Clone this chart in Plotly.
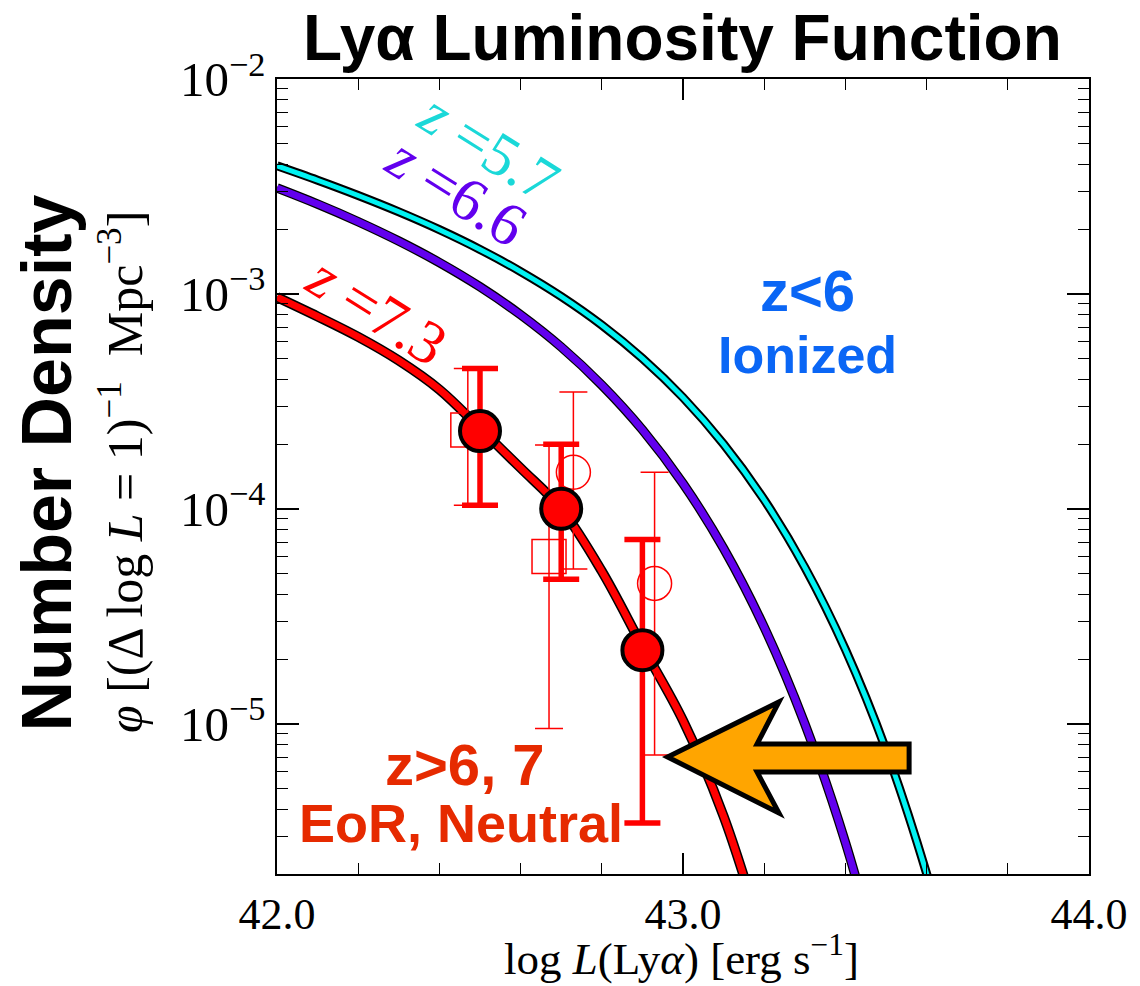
import plotly.graph_objects as go

# ---- data -------------------------------------------------------------
log_lum = [42.0, 42.1, 42.2, 42.3, 42.4, 42.5, 42.6, 42.7, 42.8, 42.9,
           43.0, 43.1, 43.2, 43.3, 43.4, 43.5, 43.6, 43.7]

# log10 phi of the Schechter model curves at each log L
lf_z57 = [-2.404, -2.471, -2.542, -2.618, -2.701, -2.793, -2.896, -3.012,
          -3.145, -3.300, -3.482, -3.699, -3.958, -4.272, -4.654, -5.121,
          -5.697, -6.390]
lf_z66 = [-2.507, -2.582, -2.664, -2.754, -2.854, -2.967, -3.097, -3.247,
          -3.424, -3.632, -3.882, -4.184, -4.551, -5.000, -5.552, -6.235]
lf_z73 = [-3.015, -3.105, -3.200, -3.310, -3.445, -3.625, -3.810, -4.000,
          -4.290, -4.640, -4.985, -5.430, -6.020]

# z=7.3 measurements (filled circles, thick error bars)
obs_x = [42.5, 42.7, 42.9]
obs_phi = [2.3e-4, 1.0e-4, 2.2e-5]
obs_hi = [4.5e-4, 2.0e-4, 7.2e-5]
obs_lo = [1.04e-4, 4.7e-5, 3.45e-6]

# earlier z~7 measurements: open squares
sq_x = [42.47, 42.67]
sq_phi = [2.33e-4, 6.0e-5]
sq_hi = [4.5e-4, 1.98e-4]
sq_lo = [1.04e-4, 9.5e-6]

# open circles
ci_x = [42.73, 42.93]
ci_phi = [1.48e-4, 4.5e-5]
ci_hi = [3.5e-4, 1.48e-4]
ci_lo = [5.25e-5, 7.15e-6]

x_ticks = [42.0, 43.0, 44.0]
x_ticktext = ["42.0", "43.0", "44.0"]
y_ticks = [1e-5, 1e-4, 1e-3, 1e-2]
y_ticktext = ["10<sup>−5</sup>", "10<sup>−4</sup>", "10<sup>−3</sup>", "10<sup>−2</sup>"]

# ---- layout geometry (pixels) ---------------------------------------
W, H = 1140, 986
L, R, T, B = 277, 1094, 79, 874


def xp(px):
    return (px - L) / (R - L)


def yp(py):
    return (B - py) / (B - T)


RED = "#ff0000"
PURPLE = "#6200ee"
CYAN = "#00f2f2"
SERIF = "Liberation Serif"
SANS = "Liberation Sans"

fig = go.Figure()


def add_curve(ys, color, core_w, edge_w):
    xs = log_lum[:len(ys)]
    vals = [10 ** v for v in ys]
    fig.add_trace(go.Scatter(x=xs, y=vals, mode="lines", line_shape="spline",
                             line=dict(color="black", width=edge_w),
                             hoverinfo="skip", showlegend=False))
    fig.add_trace(go.Scatter(x=xs, y=vals, mode="lines", line_shape="spline",
                             line=dict(color=color, width=core_w),
                             hoverinfo="skip", showlegend=False))


add_curve(lf_z57, CYAN, 5, 9)
add_curve(lf_z66, PURPLE, 7, 9.5)
add_curve(lf_z73, RED, 7, 10)


def err(ys, hi, lo):
    return dict(type="data", symmetric=False,
                array=[h - y for h, y in zip(hi, ys)],
                arrayminus=[y - l for y, l in zip(ys, lo)])


fig.add_trace(go.Scatter(
    x=sq_x, y=sq_phi, mode="markers",
    marker=dict(symbol="square-open", size=34, color=RED, line=dict(width=1.5)),
    error_y=dict(**err(sq_phi, sq_hi, sq_lo), color=RED, thickness=1.5, width=14),
    showlegend=False))
fig.add_trace(go.Scatter(
    x=ci_x, y=ci_phi, mode="markers",
    marker=dict(symbol="circle-open", size=34, color=RED, line=dict(width=1.5)),
    error_y=dict(**err(ci_phi, ci_hi, ci_lo), color=RED, thickness=1.5, width=14),
    showlegend=False))
fig.add_trace(go.Scatter(
    x=obs_x, y=obs_phi, mode="markers",
    marker=dict(symbol="circle", size=40, color=RED, line=dict(color="black", width=4)),
    error_y=dict(**err(obs_phi, obs_hi, obs_lo), color=RED, thickness=5.5, width=18),
    showlegend=False))

# ---- axes -------------------------------------------------------------
fig.update_xaxes(range=[42.0, 44.0], tickvals=x_ticks, ticktext=x_ticktext,
                 ticks="inside", ticklen=21, tickwidth=1.5, tickcolor="black",
                 minor=dict(dtick=0.2, ticks="inside", ticklen=11, tickwidth=1.3,
                            tickcolor="black", showgrid=False),
                 showline=True, linecolor="black", linewidth=1.5, mirror="ticks",
                 showgrid=False, zeroline=False,
                 tickfont=dict(family=SERIF, size=44, color="black"))
fig.update_yaxes(type="log", range=[-5.699, -2.0], tickvals=y_ticks, ticktext=y_ticktext,
                 ticks="inside", ticklen=22, tickwidth=1.5, tickcolor="black",
                 minor=dict(dtick="D1", ticks="inside", ticklen=11, tickwidth=1.3,
                            tickcolor="black", showgrid=False),
                 showline=True, linecolor="black", linewidth=1.5, mirror="ticks",
                 showgrid=False, zeroline=False,
                 tickfont=dict(family=SERIF, size=49, color="black"))

# ---- text -------------------------------------------------------------
ann = []


def text(px, py, s, size, color="black", family=SANS, angle=0, bold=False,
         yanchor="middle"):
    if bold:
        s = "<b>" + s + "</b>"
    ann.append(dict(x=xp(px), y=yp(py), xref="paper", yref="paper", text=s,
                    showarrow=False, textangle=angle, xanchor="center", yanchor=yanchor,
                    font=dict(family=family, size=size, color=color)))


text(685, 38, "Lyα Luminosity Function", 64, bold=True)
text(46, 463, "Number Density", 70, angle=-90, bold=True)
text(120, 472, "<i>φ</i> [(Δ log <i>L</i> = 1)<sup>−1</sup>  Mpc<sup>−3</sup>]", 50,
     family=SERIF, angle=-90)
text(684, 986, "log <i>L</i>(Ly<i>α</i>) [erg s<sup>−1</sup>]", 45, family=SERIF,
     yanchor="bottom")

text(491, 147, "<i>z</i> =5.7", 61, color="#1ad8d8", family=SERIF, angle=32)
text(458, 192, "<i>z</i> =6.6", 61, color=PURPLE, family=SERIF, angle=32)
text(378, 310, "<i>z</i> =7.3", 61, color=RED, family=SERIF, angle=32)

BLUE = "#0a66f5"
ORANGE_RED = "#e62a00"
text(811, 290, "z&lt;6", 58, color=BLUE, bold=True)
text(811, 355, "Ionized", 52, color=BLUE, bold=True)
text(466, 764, "z&gt;6, 7", 58, color=ORANGE_RED, bold=True)
text(462, 823, "EoR, Neutral", 54, color=ORANGE_RED, bold=True)

# ---- arrow pointing at the faint end --------------------------------
arrow_px = [(670, 757), (782, 702), (760, 744), (913, 744), (913, 772),
            (760, 772), (782, 813)]
path = "M " + " L ".join(f"{xp(a):.5f},{yp(b):.5f}" for a, b in arrow_px) + " Z"

fig.update_layout(
    width=W, height=H,
    margin=dict(l=L, r=W - R, t=T, b=H - B),
    paper_bgcolor="white", plot_bgcolor="white",
    annotations=ann,
    shapes=[dict(type="path", xref="paper", yref="paper", path=path,
                 fillcolor="#ffa500", line=dict(color="black", width=5), layer="above")],
)

fig.write_html("out.html")
